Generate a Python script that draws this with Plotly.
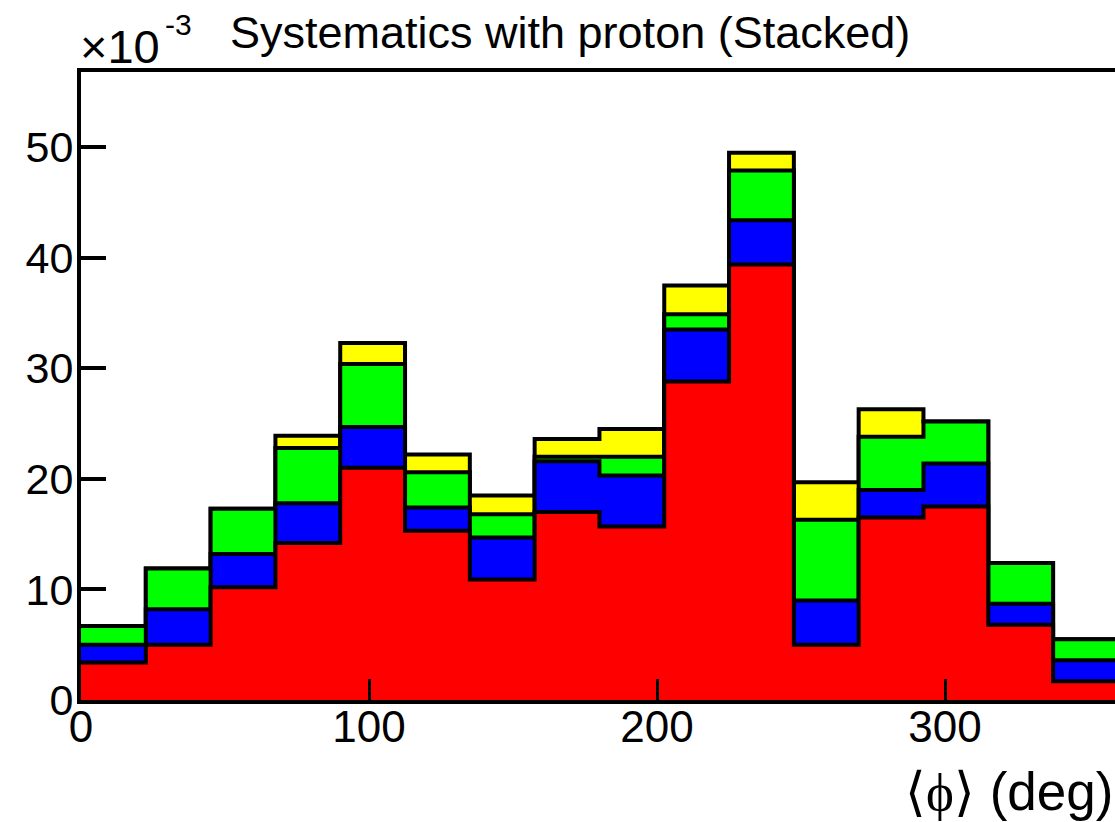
import numpy as np
import plotly.graph_objects as go

# ---- data (values in units of 1e-3) ----
bin_edges = [0, 22.5, 45, 67.5, 90, 112.5, 135, 157.5, 180, 202.5, 225, 247.5,
             270, 292.5, 315, 337.5, 360]
red    = [3.4, 5.0, 10.2, 14.2, 21.0, 15.3, 10.9, 17.0, 15.7, 28.8, 39.4, 5.0, 16.5, 17.5, 6.8, 1.7]
blue   = [1.6, 3.2, 3.0, 3.6, 3.7, 2.1, 3.8, 4.6, 4.6, 4.7, 4.0, 4.0, 2.5, 3.9, 1.9, 1.9]
green  = [1.7, 3.7, 4.1, 5.0, 5.7, 3.2, 2.1, 0.4, 1.7, 1.4, 4.5, 7.3, 4.8, 3.8, 3.7, 1.9]
yellow = [0.0, 0.0, 0.0, 1.1, 1.9, 1.6, 1.7, 1.6, 2.5, 2.6, 1.6, 3.4, 2.5, 0.0, 0.0, 0.0]
x_ticks = [0, 100, 200, 300]
y_ticks = [0, 10, 20, 30, 40, 50]

series = [("red", red, "#ff0000"), ("blue", blue, "#0000ff"),
          ("green", green, "#00ff00"), ("yellow", yellow, "#ffff00")]

cum = np.cumsum(np.array([s[1] for s in series]), axis=0)

fig = go.Figure()
# draw from the top of the stack down, like THStack
for i in range(len(series) - 1, -1, -1):
    yv = list(cum[i]) + [cum[i][-1]]
    fig.add_trace(go.Scatter(
        x=bin_edges, y=yv, mode="lines", line=dict(shape="hv", color="black", width=4),
        fill="tozeroy", fillcolor=series[i][2], name=series[i][0], hoverinfo="skip"))

FONT = "Liberation Sans, Arial, Helvetica, sans-serif"

fig.update_layout(
    width=1115, height=822,
    margin=dict(l=81, r=0, t=72, b=122),
    paper_bgcolor="white", plot_bgcolor="white",
    showlegend=False,
    font=dict(family=FONT, color="black"),
    xaxis=dict(range=[0, 359.0], tickvals=x_ticks, ticktext=[str(v) for v in x_ticks],
               ticks="inside", ticklen=21, tickwidth=3, tickcolor="black",
               ticklabelstandoff=-15,
               showline=True, linewidth=4, linecolor="black", mirror=True,
               showgrid=False, zeroline=False, tickfont=dict(size=44, family=FONT)),
    yaxis=dict(range=[0, 56.8], tickvals=y_ticks, ticktext=[str(v) for v in y_ticks],
               ticks="inside", ticklen=25, tickwidth=4, tickcolor="black",
               ticklabelstandoff=-5,
               showline=True, linewidth=4, linecolor="black", mirror=False,
               showgrid=False, zeroline=False, tickfont=dict(size=43, family=FONT)),
)

fig.add_annotation(text="Systematics with proton (Stacked)", xref="paper", yref="paper",
                   x=(228 - 81) / 1034, y=(700 - 32) / 628, xanchor="left", yanchor="middle",
                   showarrow=False, font=dict(size=45, family=FONT, color="black"))
fig.add_annotation(text="×10", xref="paper", yref="paper",
                   x=(78 - 81) / 1034, y=(700 - 47) / 628, xanchor="left", yanchor="middle",
                   showarrow=False, font=dict(size=47, family=FONT, color="black"))
fig.add_annotation(text="-3", xref="paper", yref="paper",
                   x=(163 - 81) / 1034, y=(700 - 24) / 628, xanchor="left", yanchor="middle",
                   showarrow=False, font=dict(size=30, family=FONT, color="black"))
fig.add_annotation(text="⟨<span style='font-family:Liberation Serif, DejaVu Serif, serif'>ϕ</span>⟩ (deg)",
                   xref="paper", yref="paper",
                   x=1.0, y=(700 - 791) / 628, xanchor="right", yanchor="middle",
                   showarrow=False, font=dict(size=53, family=FONT, color="black"))

fig.write_html("out.html")
